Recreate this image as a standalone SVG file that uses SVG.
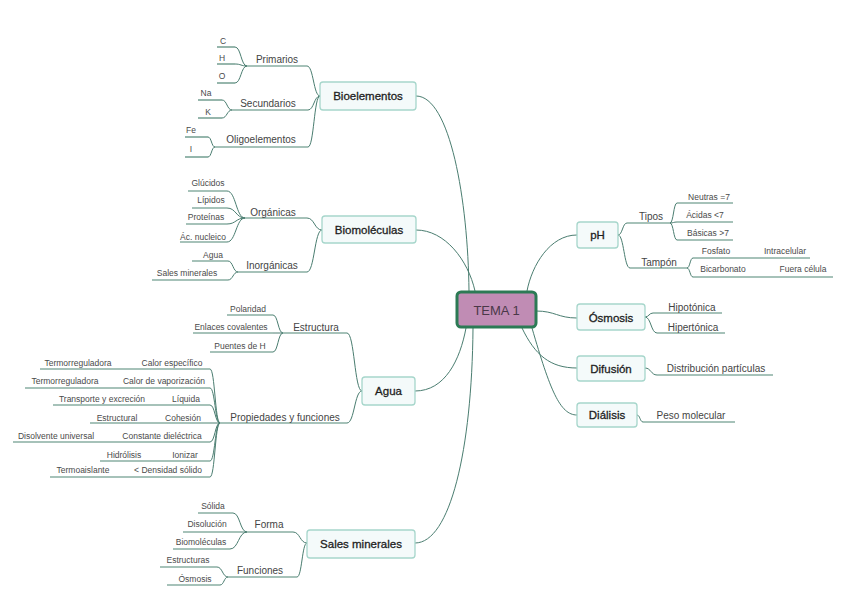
<svg xmlns="http://www.w3.org/2000/svg" width="848" height="599" viewBox="0 0 848 599">
<style>
.con{fill:none;stroke:#4a7d70;stroke-width:1}
.ul{fill:none;stroke:#4f8575;stroke-width:1.2}
.box{fill:#f4fafa;stroke:#a6d6cb;stroke-width:1.3}
.tp{font-family:"Liberation Sans",Arial,sans-serif;font-size:11.5px;fill:#1e1e1e;stroke:#1e1e1e;stroke-width:0.3;text-anchor:middle;dominant-baseline:central}
.mid{font-family:"Liberation Sans",Arial,sans-serif;font-size:10px;fill:#444;text-anchor:middle;dominant-baseline:central}
.lf{font-family:"Liberation Sans",Arial,sans-serif;font-size:8.5px;fill:#4a4a4a;text-anchor:middle;dominant-baseline:central}
</style>
<rect width="848" height="599" fill="#ffffff"/>
<g id="connectors">
<path class="con" d="M416 96 C450 96 468 200 469 291"/>
<path class="con" d="M416 230 C445 230 468 260 475 291"/>
<path class="con" d="M577 235 C550 235 532 265 527 291"/>
<path class="con" d="M536 311 C555 311 558 318 577 318"/>
<path class="con" d="M522 328 C535 355 550 368 577 368"/>
<path class="con" d="M532 328 C550 390 560 415 577 415"/>
<path class="con" d="M415 391 C445 391 460 360 466 328"/>
<path class="con" d="M415 543 C450 543 472 450 473 328"/>
<path class="con" d="M320 96 C313.5 96 313.5 66 307 66"/>
<path class="con" d="M320 96 C314 96 314 110 308 110"/>
<path class="con" d="M320 96 C314 96 314 147 308 147"/>
<path class="con" d="M247 66 C241 66 241 47 235 47"/>
<path class="con" d="M247 66 C241 66 241 64 235 64"/>
<path class="con" d="M247 66 C241 66 241 83 235 83"/>
<path class="con" d="M232 110 C227 110 227 100 222 100"/>
<path class="con" d="M232 110 C227 110 227 118 222 118"/>
<path class="con" d="M215 147 C211.5 147 211.5 137 208 137"/>
<path class="con" d="M215 147 C211.5 147 211.5 157 208 157"/>
<path class="con" d="M322 230 C314.5 230 314.5 218 307 218"/>
<path class="con" d="M322 230 C314.5 230 314.5 272 307 272"/>
<path class="con" d="M245 218 C236 218 236 191 227 191"/>
<path class="con" d="M245 218 C236 218 236 208 227 208"/>
<path class="con" d="M245 218 C236 218 236 224 227 224"/>
<path class="con" d="M245 218 C236 218 236 242 227 242"/>
<path class="con" d="M238 272 C233 272 233 261 228 261"/>
<path class="con" d="M238 272 C233 272 233 280 228 280"/>
<path class="con" d="M362 391 C354.5 391 354.5 333 347 333"/>
<path class="con" d="M362 391 C354.5 391 354.5 423 347 423"/>
<path class="con" d="M283 333 C278 333 278 315 273 315"/>
<path class="con" d="M283 333 C278 333 278 333 273 333"/>
<path class="con" d="M283 333 C278 333 278 352 273 352"/>
<path class="con" d="M220 423 C215 423 215 369 210 369"/>
<path class="con" d="M220 423 C215 423 215 388 210 388"/>
<path class="con" d="M220 423 C215 423 215 405 210 405"/>
<path class="con" d="M220 423 C215 423 215 423 210 423"/>
<path class="con" d="M220 423 C215 423 215 442 210 442"/>
<path class="con" d="M220 423 C215 423 215 461 210 461"/>
<path class="con" d="M220 423 C215 423 215 477 210 477"/>
<path class="con" d="M307 543 C300 543 300 532 293 532"/>
<path class="con" d="M307 543 C302 543 302 577 297 577"/>
<path class="con" d="M247 532 C240 532 240 513 233 513"/>
<path class="con" d="M247 532 C243.5 532 243.5 532 240 532"/>
<path class="con" d="M247 532 C238.5 532 238.5 549 230 549"/>
<path class="con" d="M228 577 C222.5 577 222.5 567 217 567"/>
<path class="con" d="M228 577 C224 577 224 585 220 585"/>
<path class="con" d="M618 235 C622.5 235 622.5 223 627 223"/>
<path class="con" d="M618 235 C624 235 624 268 630 268"/>
<path class="con" d="M670 223 C673.5 223 673.5 203 677 203"/>
<path class="con" d="M670 223 C673.5 223 673.5 222 677 222"/>
<path class="con" d="M670 223 C673.5 223 673.5 240 677 240"/>
<path class="con" d="M687 268 C690 268 690 258 693 258"/>
<path class="con" d="M687 268 C690 268 690 277 693 277"/>
<path class="con" d="M645 317 C649 317 649 313 653 313"/>
<path class="con" d="M645 317 C651 317 651 333 657 333"/>
<path class="con" d="M645 368 C651 368 651 375 657 375"/>
<path class="con" d="M637 415 C640 415 640 422 643 422"/>
</g>
<g id="tema1">
<rect x="457" y="292" width="79" height="35" rx="4" fill="#c08cb4" stroke="#2c7a55" stroke-width="3"/>
<text x="496.5" y="310" style="font-family:'Liberation Sans',Arial,sans-serif;font-size:13px;fill:#4a3848;text-anchor:middle;dominant-baseline:central">TEMA 1</text>
</g>
<g id="bioelementos"><rect class="box" x="320" y="82" width="96" height="28" rx="3"/><text class="tp" x="368" y="96">Bioelementos</text></g>
<g id="primarios"><line class="ul" x1="247" y1="66" x2="307" y2="66"/><text class="mid" x="277" y="59">Primarios</text></g>
<g id="c"><line class="ul" x1="217" y1="47" x2="235" y2="47"/><text class="lf" x="223" y="41">C</text></g>
<g id="h"><line class="ul" x1="217" y1="64" x2="235" y2="64"/><text class="lf" x="222" y="58">H</text></g>
<g id="o"><line class="ul" x1="217" y1="83" x2="235" y2="83"/><text class="lf" x="222" y="76">O</text></g>
<g id="secundarios"><line class="ul" x1="232" y1="110" x2="308" y2="110"/><text class="mid" x="268" y="103">Secundarios</text></g>
<g id="na"><line class="ul" x1="198" y1="100" x2="222" y2="100"/><text class="lf" x="206" y="93">Na</text></g>
<g id="k"><line class="ul" x1="198" y1="118" x2="222" y2="118"/><text class="lf" x="208" y="112">K</text></g>
<g id="oligoelementos"><line class="ul" x1="215" y1="147" x2="308" y2="147"/><text class="mid" x="261" y="139">Oligoelementos</text></g>
<g id="fe"><line class="ul" x1="185" y1="137" x2="208" y2="137"/><text class="lf" x="191" y="130">Fe</text></g>
<g id="i"><line class="ul" x1="185" y1="157" x2="208" y2="157"/><text class="lf" x="191" y="149">I</text></g>
<g id="biomoleculas"><rect class="box" x="322" y="216" width="94" height="27" rx="3"/><text class="tp" x="369" y="230">Biomoléculas</text></g>
<g id="organicas"><line class="ul" x1="245" y1="218" x2="307" y2="218"/><text class="mid" x="273" y="212">Orgánicas</text></g>
<g id="glucidos"><line class="ul" x1="188" y1="191" x2="227" y2="191"/><text class="lf" x="208" y="183">Glúcidos</text></g>
<g id="lipidos"><line class="ul" x1="192" y1="208" x2="227" y2="208"/><text class="lf" x="211" y="200">Lípidos</text></g>
<g id="proteinas"><line class="ul" x1="186" y1="224" x2="227" y2="224"/><text class="lf" x="206" y="217">Proteínas</text></g>
<g id="acnucleico"><line class="ul" x1="180" y1="242" x2="227" y2="242"/><text class="lf" x="203" y="237">Ác. nucleico</text></g>
<g id="inorganicas"><line class="ul" x1="238" y1="272" x2="307" y2="272"/><text class="mid" x="272" y="265">Inorgánicas</text></g>
<g id="agua-leaf"><line class="ul" x1="192" y1="261" x2="228" y2="261"/><text class="lf" x="213" y="255">Agua</text></g>
<g id="salesmin-leaf"><line class="ul" x1="152" y1="280" x2="228" y2="280"/><text class="lf" x="187" y="273">Sales minerales</text></g>
<g id="agua"><rect class="box" x="362" y="377" width="53" height="28" rx="3"/><text class="tp" x="388.5" y="391">Agua</text></g>
<g id="estructura"><line class="ul" x1="283" y1="333" x2="347" y2="333"/><text class="mid" x="316" y="327">Estructura</text></g>
<g id="polaridad"><line class="ul" x1="227" y1="315" x2="273" y2="315"/><text class="lf" x="248" y="309">Polaridad</text></g>
<g id="enlaces"><line class="ul" x1="193" y1="333" x2="273" y2="333"/><text class="lf" x="231" y="327">Enlaces covalentes</text></g>
<g id="puentes"><line class="ul" x1="210" y1="352" x2="273" y2="352"/><text class="lf" x="240" y="346">Puentes de H</text></g>
<g id="propiedades"><line class="ul" x1="220" y1="423" x2="347" y2="423"/><text class="mid" x="285" y="417">Propiedades y funciones</text></g>
<g id="row1"><line class="ul" x1="40" y1="369" x2="210" y2="369"/><text class="lf" x="172" y="363">Calor específico</text><text class="lf" x="78" y="363">Termorreguladora</text></g>
<g id="row2"><line class="ul" x1="25" y1="388" x2="210" y2="388"/><text class="lf" x="164" y="381">Calor de vaporización</text><text class="lf" x="65" y="381">Termorreguladora</text></g>
<g id="row3"><line class="ul" x1="53" y1="405" x2="210" y2="405"/><text class="lf" x="186" y="399">Líquida</text><text class="lf" x="102" y="399">Transporte y excreción</text></g>
<g id="row4"><line class="ul" x1="90" y1="423" x2="210" y2="423"/><text class="lf" x="183" y="418">Cohesión</text><text class="lf" x="117" y="418">Estructural</text></g>
<g id="row5"><line class="ul" x1="13" y1="442" x2="210" y2="442"/><text class="lf" x="162" y="436">Constante dieléctrica</text><text class="lf" x="56" y="436">Disolvente universal</text></g>
<g id="row6"><line class="ul" x1="100" y1="461" x2="210" y2="461"/><text class="lf" x="185" y="455">Ionizar</text><text class="lf" x="124" y="455">Hidrólisis</text></g>
<g id="row7"><line class="ul" x1="50" y1="477" x2="210" y2="477"/><text class="lf" x="168" y="470">&lt; Densidad sólido</text><text class="lf" x="83" y="470">Termoaislante</text></g>
<g id="salesminerales"><rect class="box" x="307" y="530" width="108" height="28" rx="3"/><text class="tp" x="361" y="544">Sales minerales</text></g>
<g id="forma"><line class="ul" x1="247" y1="532" x2="293" y2="532"/><text class="mid" x="269" y="524">Forma</text></g>
<g id="solida"><line class="ul" x1="198" y1="513" x2="233" y2="513"/><text class="lf" x="213" y="506">Sólida</text></g>
<g id="disolucion"><line class="ul" x1="183" y1="532" x2="240" y2="532"/><text class="lf" x="207" y="524">Disolución</text></g>
<g id="biomol-leaf"><line class="ul" x1="173" y1="549" x2="230" y2="549"/><text class="lf" x="201" y="542">Biomoléculas</text></g>
<g id="funciones"><line class="ul" x1="228" y1="577" x2="297" y2="577"/><text class="mid" x="260" y="570">Funciones</text></g>
<g id="estructuras"><line class="ul" x1="160" y1="567" x2="217" y2="567"/><text class="lf" x="188" y="560">Estructuras</text></g>
<g id="osmosis-leaf"><line class="ul" x1="167" y1="585" x2="220" y2="585"/><text class="lf" x="195" y="579">Ósmosis</text></g>
<g id="ph"><rect class="box" x="577" y="222" width="41" height="26" rx="3"/><text class="tp" x="597.5" y="235">pH</text></g>
<g id="tipos"><line class="ul" x1="627" y1="223" x2="670" y2="223"/><text class="mid" x="651" y="216">Tipos</text></g>
<g id="neutras"><line class="ul" x1="677" y1="203" x2="733" y2="203"/><text class="lf" x="709" y="197">Neutras =7</text></g>
<g id="acidas"><line class="ul" x1="677" y1="222" x2="733" y2="222"/><text class="lf" x="705" y="215">Ácidas &lt;7</text></g>
<g id="basicas"><line class="ul" x1="677" y1="240" x2="733" y2="240"/><text class="lf" x="708" y="233">Básicas &gt;7</text></g>
<g id="tampon"><line class="ul" x1="630" y1="268" x2="687" y2="268"/><text class="mid" x="659" y="262">Tampón</text></g>
<g id="fosfato"><line class="ul" x1="693" y1="258" x2="810" y2="258"/><text class="lf" x="716" y="251">Fosfato</text><text class="lf" x="785" y="251">Intracelular</text></g>
<g id="bicarbonato"><line class="ul" x1="693" y1="277" x2="833" y2="277"/><text class="lf" x="723" y="269">Bicarbonato</text><text class="lf" x="803" y="269">Fuera célula</text></g>
<g id="osmosis"><rect class="box" x="577" y="304" width="68" height="26" rx="3"/><text class="tp" x="611" y="318">Ósmosis</text></g>
<g id="hipotonica"><line class="ul" x1="653" y1="313" x2="722" y2="313"/><text class="mid" x="692" y="307">Hipotónica</text></g>
<g id="hipertonica"><line class="ul" x1="657" y1="333" x2="725" y2="333"/><text class="mid" x="693" y="327">Hipertónica</text></g>
<g id="difusion"><rect class="box" x="577" y="356" width="68" height="25" rx="3"/><text class="tp" x="611" y="368.5">Difusión</text></g>
<g id="distribucion"><line class="ul" x1="657" y1="375" x2="773" y2="375"/><text class="mid" x="716" y="368">Distribución partículas</text></g>
<g id="dialisis"><rect class="box" x="577" y="403" width="60" height="24" rx="3"/><text class="tp" x="607" y="415">Diálisis</text></g>
<g id="peso"><line class="ul" x1="643" y1="422" x2="735" y2="422"/><text class="mid" x="691" y="415">Peso molecular</text></g>
</svg>
